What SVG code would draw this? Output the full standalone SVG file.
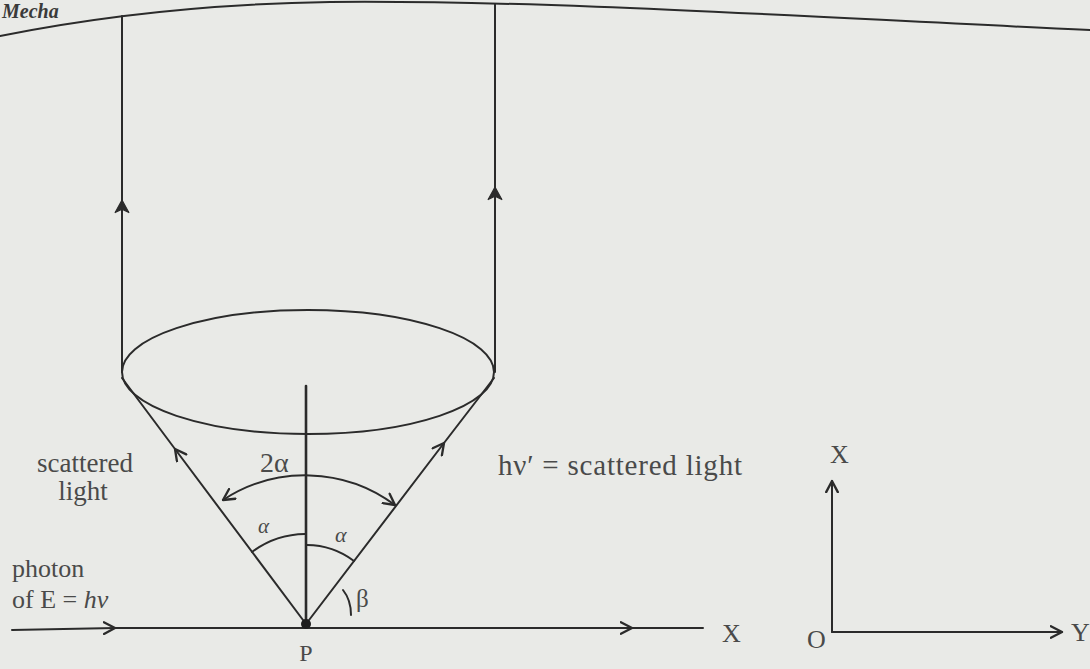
<svg xmlns="http://www.w3.org/2000/svg" width="1090" height="669" viewBox="0 0 1090 669">
  <defs>
    <style>
      .ln { fill: none; stroke: #2b2b2b; stroke-width: 2; stroke-linecap: round; stroke-linejoin: round; }
      .thk { stroke-width: 2.6; }
      .t { font-family: "Liberation Serif", "Times New Roman", serif; fill: #4a4a4a; }
      .ar { marker-mid: url(#chev); }
      .are { marker-end: url(#chev); }
      .arb { marker-start: url(#chevS); marker-end: url(#chev); }
      .up { marker-mid: url(#barb); }
    </style>
    <marker id="chev" viewBox="0 0 12 12" refX="10.5" refY="6" markerWidth="14" markerHeight="14" markerUnits="userSpaceOnUse" orient="auto">
      <path d="M1,1 L10.5,6 L1,11" fill="none" stroke="#2b2b2b" stroke-width="2" stroke-linecap="round" stroke-linejoin="round"/>
    </marker>
    <marker id="chevS" viewBox="0 0 12 12" refX="10.5" refY="6" markerWidth="14" markerHeight="14" markerUnits="userSpaceOnUse" orient="auto-start-reverse">
      <path d="M1,1 L10.5,6 L1,11" fill="none" stroke="#2b2b2b" stroke-width="2" stroke-linecap="round" stroke-linejoin="round"/>
    </marker>
    <marker id="barb" viewBox="0 0 14 14" refX="12" refY="7" markerWidth="16" markerHeight="16" markerUnits="userSpaceOnUse" orient="auto">
      <path d="M12,7 L1,1 L4,7 L1,13 Z" fill="#2b2b2b" stroke="#2b2b2b" stroke-width="1" stroke-linejoin="round"/>
    </marker>
  </defs>

  <rect x="0" y="0" width="1090" height="669" fill="#e9eae7"/>

  <g id="header">
    <text x="2" y="18" class="t" font-size="20" font-weight="bold" font-style="italic" style="fill:#3a3a3a">Mecha</text>
    <path class="ln" d="M0,36 C90,18 200,4 330,2 C560,0 820,18 1090,30" stroke-width="2.4"/>
  </g>

  <g id="connectors">
    <!-- incident photon / X axis line -->
    <path class="ln ar" d="M12,630 L115,628 L632,628 L703,628"/>
    <!-- vertical scattered rays -->
    <path class="ln up" d="M122,372 L122,200 L122,16"/>
    <path class="ln up" d="M495,372 L495,187 L495,4"/>
    <!-- cone lines -->
    <path class="ln ar" d="M306,624 L175,449 L122,378"/>
    <path class="ln ar" d="M306,624 L444,443 L494,378"/>
    <!-- central axis -->
    <path class="ln thk" d="M306,386 L306,624"/>
    <!-- 2 alpha arc -->
    <path class="ln arb" d="M223,500 A150,150 0 0 1 395,505"/>
    <!-- alpha arcs -->
    <path class="ln" d="M252,552 A90,90 0 0 1 305,534"/>
    <path class="ln" d="M307,545 A79,79 0 0 1 354,561"/>
    <!-- beta mark -->
    <path class="ln" d="M343,590 Q351,600 351,615" stroke-width="2.4"/>
    <!-- reference axes -->
    <path class="ln are" d="M832,632 L832,481"/>
    <path class="ln are" d="M832,632 L1062,632"/>
  </g>

  <g id="ellipse">
    <ellipse cx="308" cy="372" rx="186" ry="62" class="ln"/>
  </g>

  <g id="point-P">
    <circle cx="306" cy="624" r="5" fill="#1e1e1e"/>
    <text x="306" y="661" class="t" font-size="24" text-anchor="middle">P</text>
  </g>

  <g id="label-scattered-left">
    <text x="85" y="472" class="t" font-size="27" text-anchor="middle">scattered</text>
    <text x="83" y="500" class="t" font-size="27" text-anchor="middle">light</text>
  </g>

  <g id="label-photon">
    <text x="12" y="577" class="t" font-size="26">photon</text>
    <text x="12" y="608" class="t" font-size="26">of E = <tspan font-style="italic">hν</tspan></text>
  </g>

  <g id="label-scattered-right">
    <text x="498" y="475" class="t" font-size="29" textLength="244" lengthAdjust="spacing">hν′ = scattered light</text>
  </g>

  <g id="angles">
    <text x="260" y="472" class="t" font-size="28">2α</text>
    <text x="258" y="533" class="t" font-size="21" font-style="italic">α</text>
    <text x="335" y="542" class="t" font-size="22" font-style="italic">α</text>
    <text x="356" y="607" class="t" font-size="25">β</text>
  </g>

  <g id="label-X-line">
    <text x="722" y="642" class="t" font-size="26">X</text>
  </g>

  <g id="axes-labels">
    <text x="830" y="463" class="t" font-size="26">X</text>
    <text x="807" y="648" class="t" font-size="26">O</text>
    <text x="1071" y="641" class="t" font-size="26">Y</text>
  </g>
</svg>
